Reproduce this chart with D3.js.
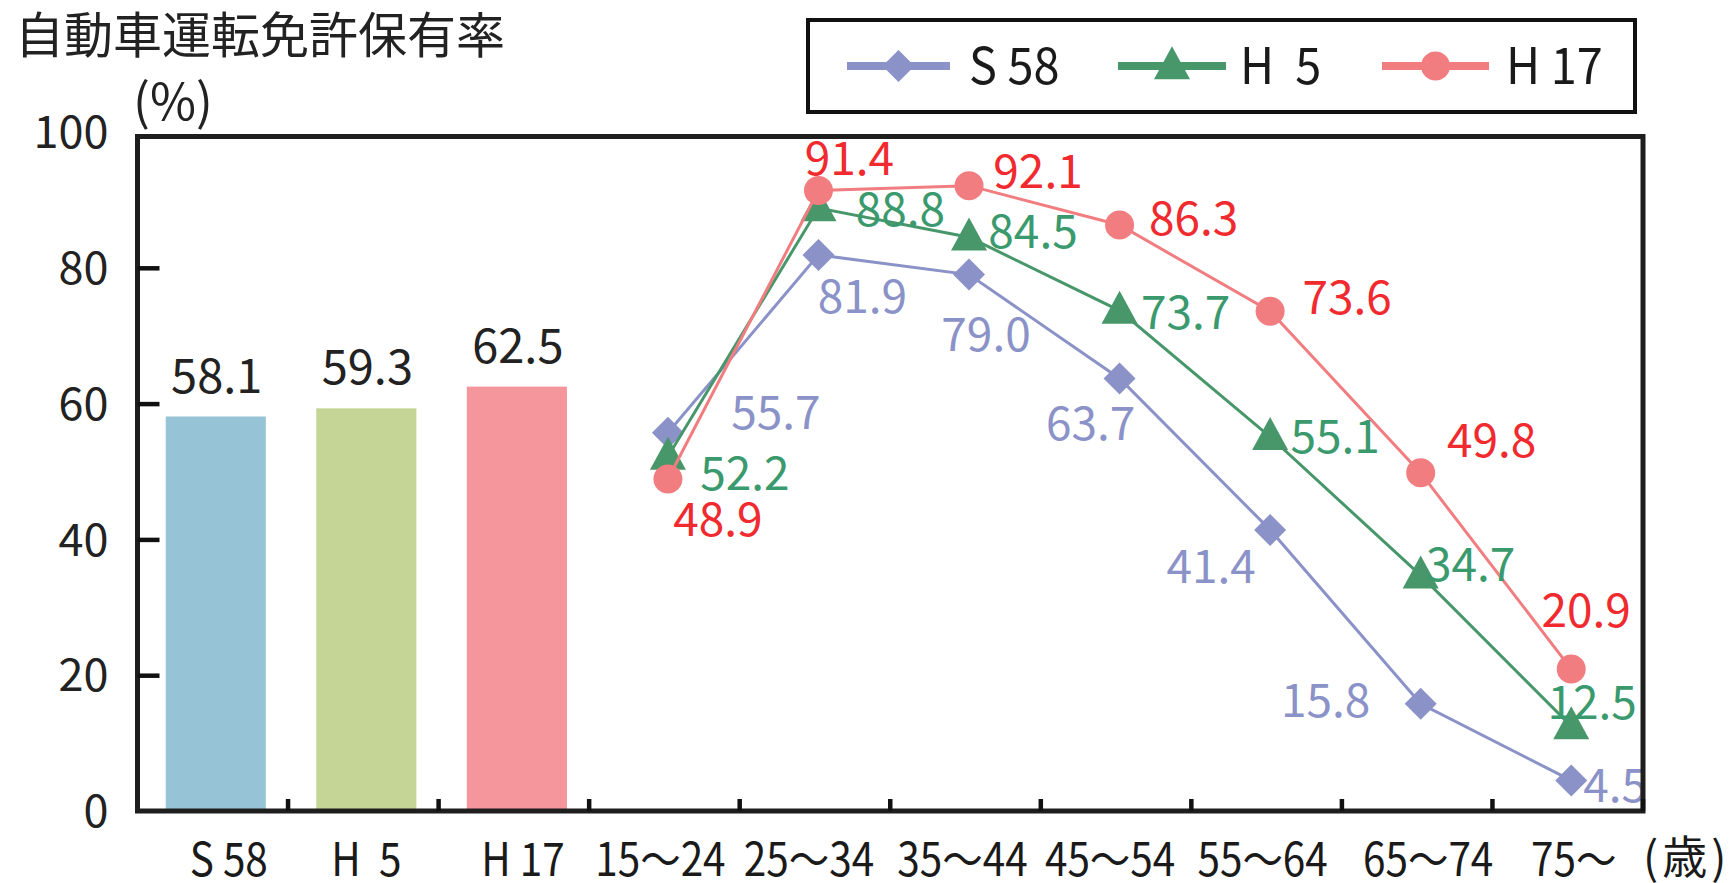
<!DOCTYPE html>
<html>
<head>
<meta charset="utf-8">
<script src="https://cdn.jsdelivr.net/npm/d3@7/dist/d3.min.js"></script>
<style>
  html, body { margin: 0; padding: 0; background: #fff; }
  svg { display: block; }
  text { font-family: "Noto Sans CJK JP", "Noto Sans", sans-serif; white-space: pre; }
</style>
</head>
<body>
<svg id="chart" width="1736" height="883"></svg>
<script>
// ---- data ----
const categories = ["S 58", "H  5", "H 17", "15～24", "25～34", "35～44", "45～54", "55～64", "65～74", "75～"];
const totalYears = ["S 58", "H  5", "H 17"];
const totalRates = [58.1, 59.3, 62.5];
const ageGroups = ["15～24", "25～34", "35～44", "45～54", "55～64", "65～74", "75～"];
const legendNames = ["S 58", "H  5", "H 17"];
const s58Rates = [55.7, 81.9, 79.0, 63.7, 41.4, 15.8, 4.5];
const h5Rates  = [52.2, 88.8, 84.5, 73.7, 55.1, 34.7, 12.5];
const h17Rates = [48.9, 91.4, 92.1, 86.3, 73.6, 49.8, 20.9];
const yTicks = [0, 20, 40, 60, 80, 100];

// ---- layout & style ----
const plot = { left: 137.5, right: 1643, top: 136.5, bottom: 811 };
const barColors = ["#96C3D6", "#C5D596", "#F4969B"];
const lineColors = ["#8A92C8", "#47976B", "#F17D80"];
const labelColors = ["#8A92C8", "#3A9A6E", "#F02A2E"];
const markerShapes = ["diamond", "triangle", "circle"];
// label nudges (dx, dy) from each point, per series
const labelOffsets = [
  [[108,-20],[44,42],[17,60],[-29,46],[-59,37],[-95,-3],[44,6]],
  [[77,17],[82,2],[64,-5],[66,2],[65,0],[50,-10],[21,-23]],
  [[50,41],[31,-31],[69,-14],[74,-6],[77,-13],[71,-32],[15,-58]]
];
// horizontal nudges of the category labels
const catLabelNudge = [16, 3, 9, -4, -6, -3, -6, -4, 11, 6];

const svg = d3.select("#chart");

const x = d3.scaleBand().domain(categories).range([plot.left, plot.right]);
const y = d3.scaleLinear().domain([0, 100]).range([plot.bottom, 132]);
const barW = x.bandwidth() * 0.665;

function condensed(g, txt, cx, cy, size, sx, anchor, color) {
  return g.append("text")
    .attr("transform", `translate(${cx},${cy}) scale(${sx},1)`)
    .attr("text-anchor", anchor || "middle")
    .attr("font-size", size)
    .attr("fill", color || "#1a1a1a")
    .text(txt);
}

// title and unit
svg.append("text").attr("x", 15).attr("y", 53).attr("font-size", 49).attr("fill", "#222")
  .text("自動車運転免許保有率");
svg.append("text").attr("x", 133).attr("y", 120).attr("font-size", 50).attr("fill", "#222")
  .text("(%)");

// bars
svg.append("g").selectAll("rect").data(totalRates).join("rect")
  .attr("x", (d, i) => x(totalYears[i]) + (x.bandwidth() - barW) / 2 + 3)
  .attr("y", d => y(d))
  .attr("width", barW)
  .attr("height", d => y(0) - y(d))
  .attr("fill", (d, i) => barColors[i]);

svg.append("g").selectAll("text").data(totalRates).join("text")
  .attr("x", (d, i) => x(totalYears[i]) + x.bandwidth() / 2 + 4)
  .attr("y", d => y(d) - 24)
  .attr("text-anchor", "middle")
  .attr("font-size", 47)
  .attr("fill", "#222")
  .text(d => d.toFixed(1));

// lines
const series = [s58Rates, h5Rates, h17Rates];
const px = (i) => x(ageGroups[i]) + x.bandwidth() / 2 + 3.5;
const line = d3.line().x((d, i) => px(i)).y(d => y(d));

function drawMarker(g, shape, cx, cy, color) {
  if (shape === "diamond") {
    const r = 16;
    g.append("path").attr("d", `M${cx},${cy - r}L${cx + r},${cy}L${cx},${cy + r}L${cx - r},${cy}Z`).attr("fill", color);
  } else if (shape === "triangle") {
    const w = 18, h = 33;
    g.append("path").attr("d", `M${cx},${cy - h * 0.6}L${cx + w},${cy + h * 0.4}L${cx - w},${cy + h * 0.4}Z`).attr("fill", color);
  } else {
    g.append("circle").attr("cx", cx).attr("cy", cy).attr("r", 14.5).attr("fill", color);
  }
}

series.forEach((vals, s) => {
  const g = svg.append("g");
  g.append("path").datum(vals).attr("d", line)
    .attr("fill", "none").attr("stroke", lineColors[s]).attr("stroke-width", 3);
  vals.forEach((v, i) => drawMarker(g, markerShapes[s], px(i), y(v), lineColors[s]));
});

// value labels for the lines
series.forEach((vals, s) => {
  svg.append("g").selectAll("text").data(vals).join("text")
    .attr("x", (d, i) => px(i) + labelOffsets[s][i][0])
    .attr("y", (d, i) => y(d) + labelOffsets[s][i][1] + 16)
    .attr("text-anchor", "middle")
    .attr("font-size", 46)
    .attr("fill", labelColors[s])
    .text(d => d.toFixed(1));
});

// axis frame
svg.append("rect")
  .attr("x", plot.left).attr("y", plot.top)
  .attr("width", plot.right - plot.left).attr("height", plot.bottom - plot.top)
  .attr("fill", "none").attr("stroke", "#1e1e1e").attr("stroke-width", 5);

// y ticks (inward) and labels
const yAxis = d3.axisLeft(y).tickValues(yTicks).tickSize(-22).tickFormat(d3.format("d"));
const yG = svg.append("g").attr("transform", `translate(${plot.left},0)`).call(yAxis);
yG.select(".domain").remove();
yG.selectAll(".tick line").attr("stroke", "#111").attr("stroke-width", 4.5)
  .filter(d => d === 0 || d === 100).remove();
yG.selectAll(".tick text").attr("font-size", 45).attr("fill", "#222")
  .attr("font-family", "'Noto Sans CJK JP', sans-serif").attr("dy", "0.35em").attr("x", -29);

// x ticks between categories (inward)
const boundaries = categories.slice(1).map(c => x(c)).concat([plot.right]);
svg.append("g").selectAll("line").data(boundaries).join("line")
  .attr("x1", d => d).attr("x2", d => d)
  .attr("y1", plot.bottom).attr("y2", plot.bottom - 12)
  .attr("stroke", "#111").attr("stroke-width", 4.5);

// x category labels (condensed)
const xLab = svg.append("g");
categories.forEach((c, i) => {
  condensed(xLab, c, x(c) + x.bandwidth() / 2 + catLabelNudge[i], 876, 46, 0.88, "middle", "#1a1a1a");
});
xLab.append("text").attr("x", 1643).attr("y", 874).attr("font-size", 45)
  .attr("letter-spacing", 4).attr("fill", "#1a1a1a").text("(歳)");

// legend
const lg = svg.append("g");
lg.append("rect").attr("x", 808).attr("y", 20).attr("width", 827).attr("height", 92)
  .attr("fill", "#fff").attr("stroke", "#111").attr("stroke-width", 4);
const legendX = [[847, 950, 969], [1118, 1226, 1240], [1382, 1489, 1506]];
legendNames.forEach((n, s) => {
  const [x1, x2, tx] = legendX[s];
  lg.append("line").attr("x1", x1).attr("x2", x2).attr("y1", 66).attr("y2", 66)
    .attr("stroke", lineColors[s]).attr("stroke-width", 8);
  drawMarker(lg, markerShapes[s], (x1 + x2) / 2, 66, lineColors[s]);
  condensed(lg, n, tx, 84, 51, 0.92, "start", "#1a1a1a");
});
</script>
</body>
</html>
